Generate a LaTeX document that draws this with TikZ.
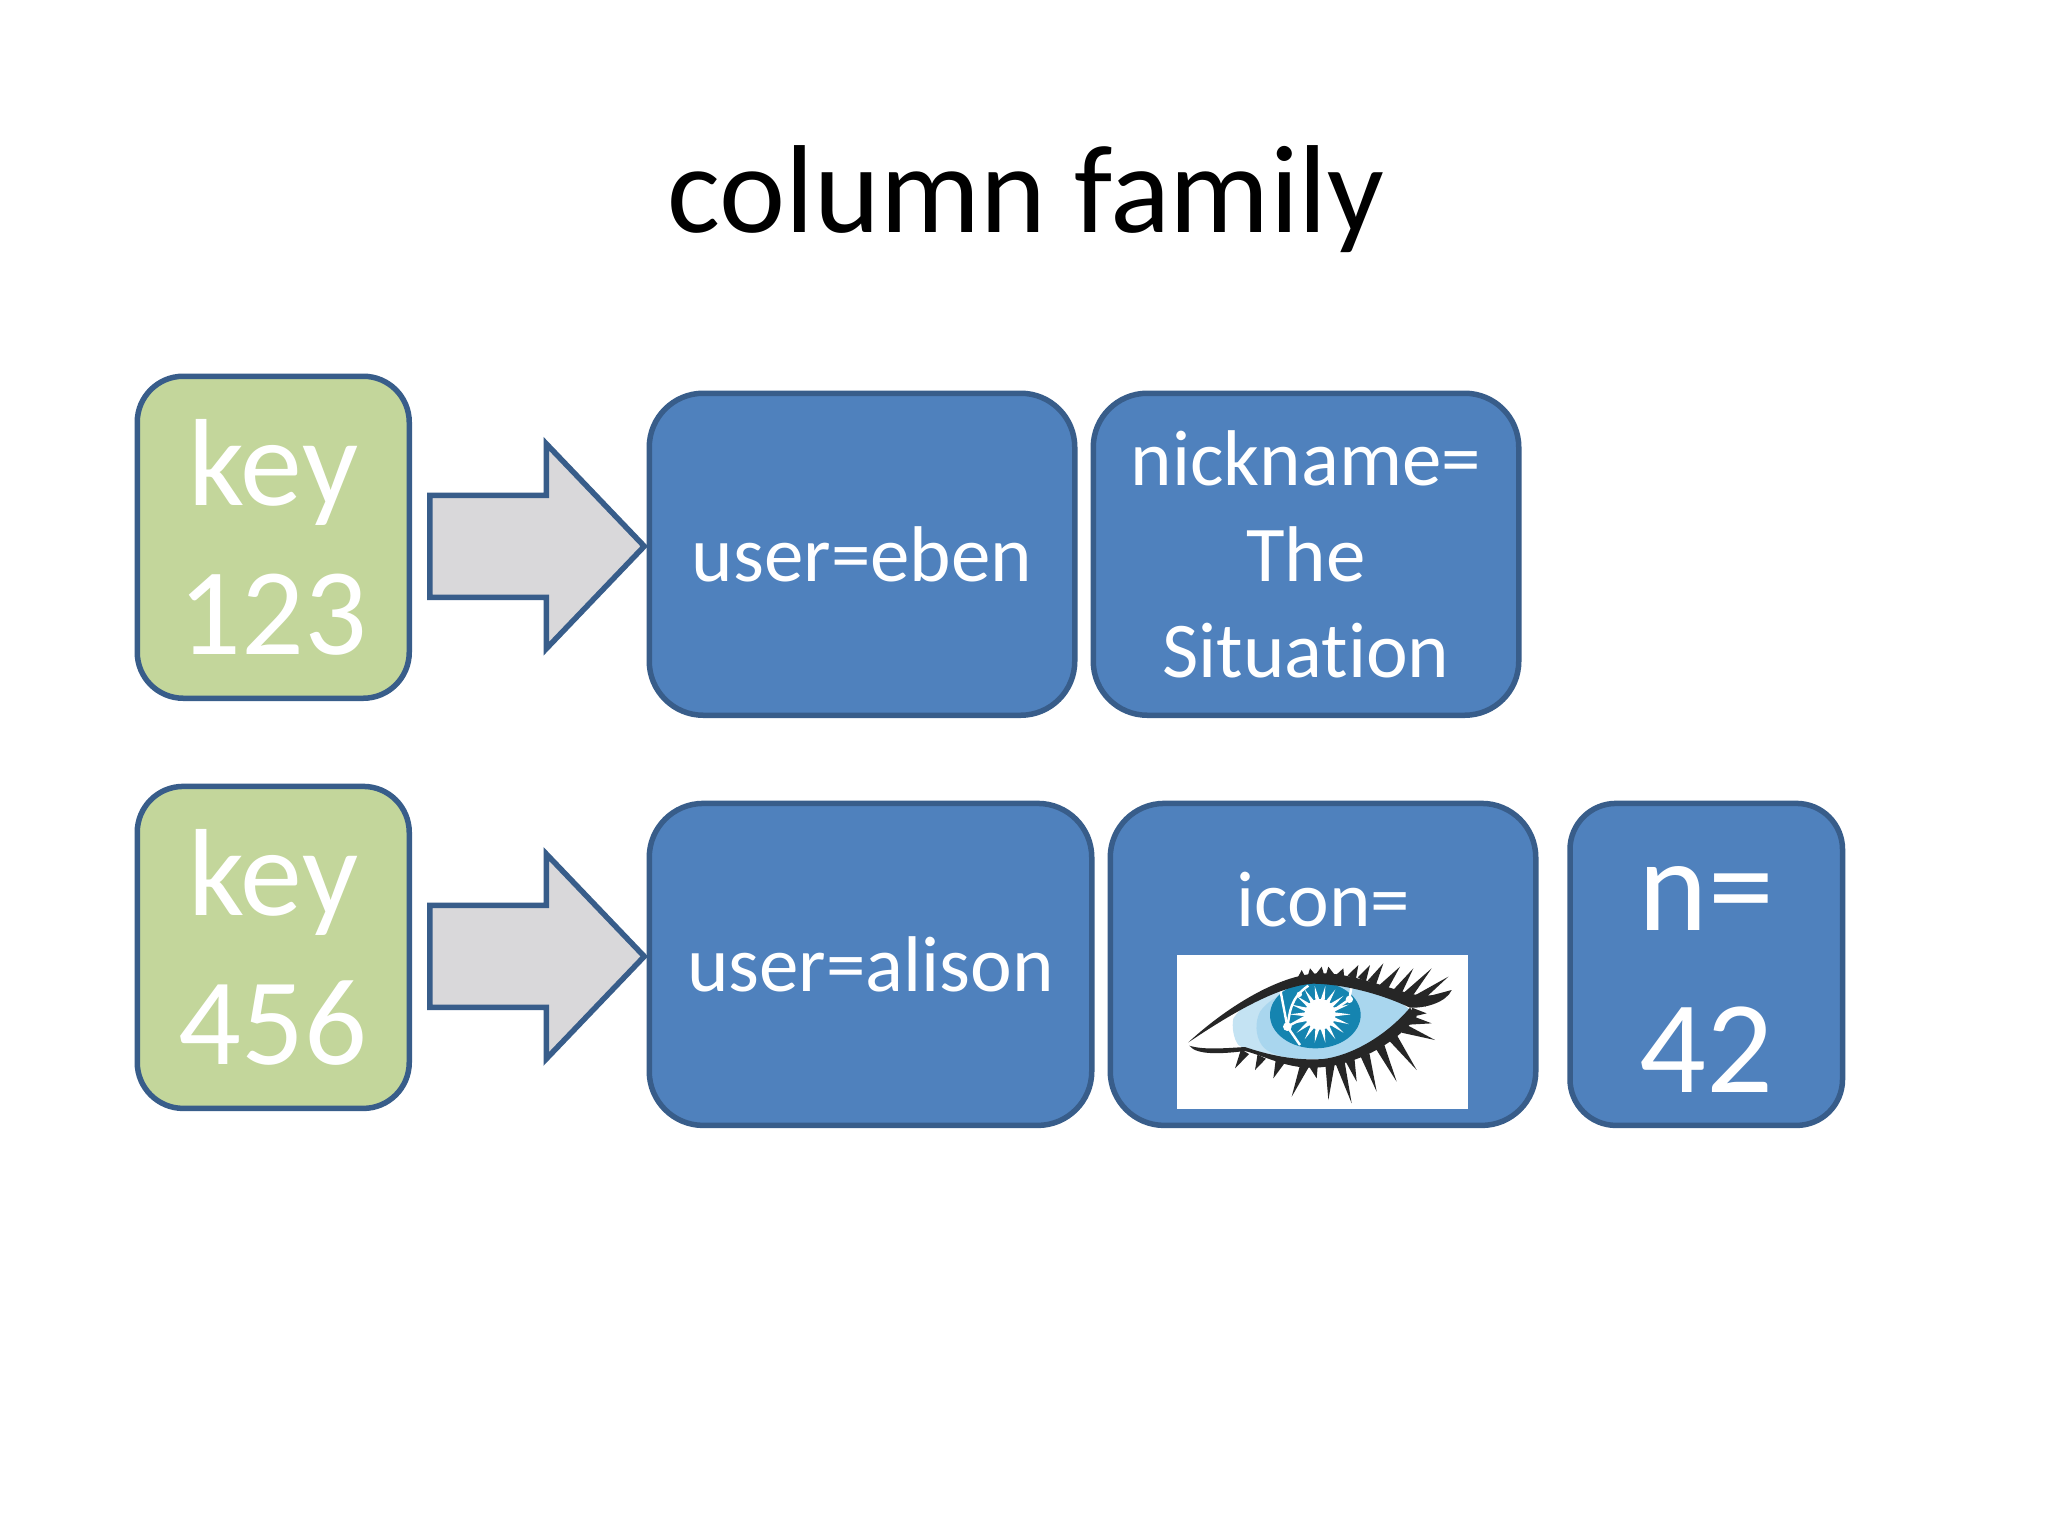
\documentclass[tikz,border=0pt]{standalone}
\usepackage{fontspec}
\setmainfont{Carlito}[Ligatures=NoCommon]
\begin{document}
\begin{tikzpicture}[x=0.5pt,y=-0.5pt,
  box/.style={draw=strokeblue,line width=2.75pt,text=white,inner sep=0pt,outer sep=0pt,align=center,anchor=north west},
  bluebox/.style={box,fill=boxblue,rounded corners=27pt,minimum height=161pt},
  greenbox/.style={box,fill=boxgreen,rounded corners=23pt,minimum width=136pt,minimum height=161pt},
  smalltext/.style={font=\fontsize{39.5}{48}\selectfont},
  keytext/.style={font=\fontsize{62}{74.2}\selectfont},
  ntext/.style={font=\fontsize{66}{81}\selectfont},
  blockarrow/.style={draw=strokeblue,line width=2.75pt,fill=arrowgrey,miter limit=10}]
\definecolor{boxblue}{HTML}{4F81BD}
\definecolor{strokeblue}{HTML}{385D8A}
\definecolor{boxgreen}{HTML}{C3D69B}
\definecolor{arrowgrey}{HTML}{D9D8DA}
\definecolor{irisblue}{HTML}{1584B0}
\definecolor{scleralight}{HTML}{A9D6EE}
\definecolor{scleraopale}{HTML}{C4E3F3}
\useasboundingbox[fill=white] (0,0) rectangle (2048,1536);
\node[font=\fontsize{62.6}{70}\selectfont,text=black] (title) at (1026,199.5) {column family};

\node[greenbox,keytext] (key1) at (137.25,376.25) {key\\123};
\node[greenbox,keytext] (key2) at (137.25,786.4) {key\\456};

\node[bluebox,smalltext,minimum width=212.75pt] (u1) at (649.25,393.25) {user=eben};
\node[bluebox,smalltext,minimum width=212.75pt] (nick) at (1093.25,393.25) {nickname=\\The\\Situation};
\node[bluebox,smalltext,minimum width=221.25pt] (u2) at (649.25,803.4) {user=alison};
\node[bluebox,minimum width=212.75pt] (icon) at (1110.25,803.4) {};
\node[smalltext,text=white] (icontext) at (1323.5,900) {icon=};
\node[bluebox,rounded corners=23pt,ntext,minimum width=136.25pt] (n) at (1570,803.4) {\rule{0pt}{46.9pt}n=\\42};

\draw[blockarrow] ([shift={(-5,-8)}]u1.west) -- ++(-98,-102.5) -- ++(0,51.5) -- ++(-116.5,0) -- ++(0,102) -- ++(116.5,0) -- ++(0,51.5) -- cycle;
\draw[blockarrow] ([shift={(-5,-8)}]u2.west) -- ++(-98,-102.5) -- ++(0,51.5) -- ++(-116.5,0) -- ++(0,102) -- ++(116.5,0) -- ++(0,51.5) -- cycle;

% the eye picture
\fill[white] (1177,955) rectangle (1468,1109);
\begin{scope}[shift={(1180,955)},x=0.16667pt,y=-0.16667pt]
  \fill[scleraopale] (160,190) .. controls (200,130) and (300,80) .. (400,75) .. controls (500,70) and (620,110) .. (690,165) .. controls (640,240) and (540,300) .. (430,312) .. controls (320,315) and (220,300) .. (175,270) .. controls (160,250) and (155,215) .. (160,190) -- cycle;
  \fill[scleralight] (240,170) .. controls (280,110) and (400,75) .. (500,85) .. controls (580,95) and (650,130) .. (690,165) .. controls (640,240) and (540,300) .. (430,312) .. controls (340,315) and (270,305) .. (245,270) .. controls (225,240) and (225,200) .. (240,170) -- cycle;
  \begin{scope}
    \clip (25,262) .. controls (150,170) and (290,80) .. (400,75) .. controls (500,70) and (620,110) .. (690,165) -- (690,400) -- (25,400) -- cycle;
    \fill[irisblue] (406,180) ellipse (136 and 100);
  \end{scope}
  \foreach \a in {0,20,...,340}{
    \fill[white] ({420+40*cos(\a+10)},{178+38*sin(\a+10)}) -- ({420+92*cos(\a)},{178+86*sin(\a)}) -- ({420+40*cos(\a-10)},{178+38*sin(\a-10)}) -- cycle;
  }
  \fill[white] (420,178) circle (46);
  \draw[white,line width=1.2pt] (300,100) -- (322,215) -- (360,270);
  \draw[white,line width=1.2pt] (322,215) .. controls (330,170) and (330,130) .. (385,92);
  \draw[white,line width=1.2pt] (322,215) -- (400,172);
  \draw[white,line width=1.2pt] (515,92) -- (508,133) -- (455,170);
  \fill[white] (322,215) circle (13);
  \fill[white] (508,133) circle (11);
  \fill[white] (358,118) circle (8);
  % lids
  \fill[black!85] (25,262) .. controls (130,165) and (280,68) .. (400,56) .. controls (500,46) and (620,100) .. (700,118) .. controls (750,125) and (790,120) .. (815,105) .. controls (800,140) and (740,160) .. (690,158) .. controls (610,120) and (500,88) .. (400,86) .. controls (290,92) and (140,185) .. (25,262) -- cycle;
  \fill[black!85] (28,272) .. controls (50,302) and (130,296) .. (195,288) .. controls (260,305) and (320,340) .. (400,338) .. controls (500,336) and (630,285) .. (710,185) -- (690,158) .. controls (620,240) and (520,300) .. (430,312) .. controls (340,318) and (260,298) .. (195,276) .. controls (130,280) and (70,285) .. (28,272) -- cycle;
  \foreach \bx/\by/\tx/\ty in {365/72/365/45,395/66/390/40,420/62/425/35,450/62/445/35,480/66/490/40,515/68/535/30,545/74/570/30,575/84/610/25,610/98/660/35,650/114/700/40,680/124/755/40,710/134/805/65,730/142/815/105,
    195/290/165/340,245/305/225/345,300/320/280/370,375/328/335/425,400/330/410/370,450/328/445/435,480/322/515/445,510/315/530/380,555/300/590/410,600/275/650/380,640/250/710/345,670/220/765/255,690/195/755/205,695/172/740/175}{
    \pgfmathsetmacro\lx{\tx-\bx}
    \pgfmathsetmacro\ly{\ty-\by}
    \pgfmathsetmacro\ll{veclen(\lx,\ly)}
    \pgfmathsetmacro\wx{14*\ly/\ll}
    \pgfmathsetmacro\wy{14*\lx/\ll}
    \fill[black!85] (\bx-\wx,\by+\wy) -- (\tx,\ty) -- (\bx+\wx,\by-\wy) -- cycle;
  }
\end{scope}
\end{tikzpicture}
\end{document}
